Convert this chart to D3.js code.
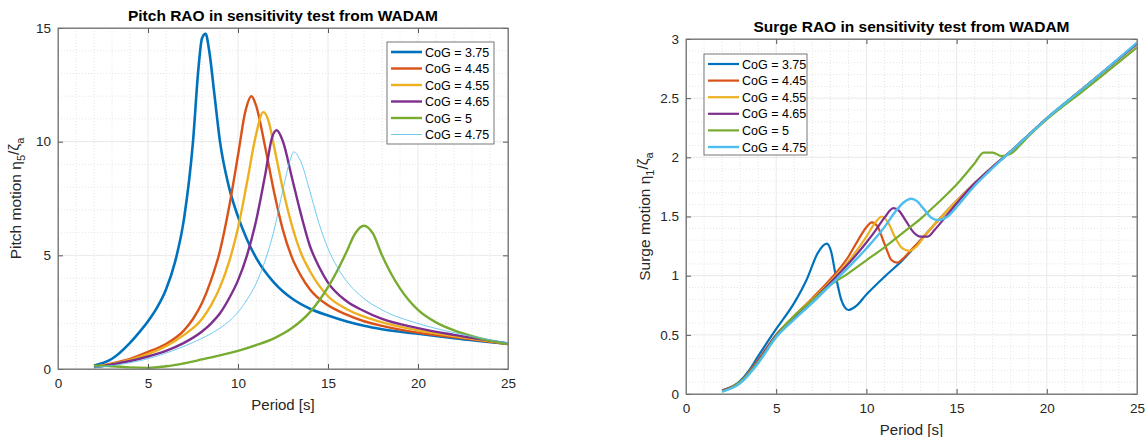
<!DOCTYPE html>
<html>
<head>
<meta charset="utf-8">
<script src="https://cdn.jsdelivr.net/npm/d3@7"></script>
<style>
  body { margin: 0; background: #fff; }
  svg { display: block; font-family: "Liberation Sans", Arial, sans-serif; }
</style>
</head>
<body>
<svg id="chart" width="1148" height="437"></svg>
<script>
// legend labels, in legend order
const cogLabels = ["CoG = 3.75", "CoG = 4.45", "CoG = 4.55", "CoG = 4.65", "CoG = 5", "CoG = 4.75"];
const cogColors = ["#0072BD", "#D95319", "#EDB120", "#7E2F8E", "#77AC30", "#4DBEEE"];

const periodTicks = [0, 5, 10, 15, 20, 25];
const pitchTicks = [0, 5, 10, 15];
const surgeTicks = [0, 0.5, 1, 1.5, 2, 2.5, 3];

// pitch RAO [period, value]
const pitch375 = [[2,0.15],[3,0.45],[4,1.15],[4.5,1.6],[5,2.1],[5.5,2.7],[6,3.5],[6.5,4.7],[7,6.6],[7.5,10.0],[7.8,13.2],[8,14.55],[8.2,14.75],[8.4,14.0],[8.7,12.0],[9,10.0],[9.5,8.0],[10,6.7],[10.5,5.7],[11,4.9],[12,3.8],[13,3.1],[14,2.65],[15,2.35],[16,2.1],[17,1.9],[18,1.75],[20,1.55],[22,1.35],[25,1.1]];
const pitch445 = [[2,0.1],[3,0.25],[4,0.45],[5,0.75],[6,1.1],[7,1.7],[7.5,2.2],[8,2.9],[8.5,3.9],[9,5.2],[9.5,7.1],[10,9.4],[10.4,11.3],[10.75,12.0],[11,11.6],[11.5,9.8],[12,7.8],[12.5,6.1],[13,4.9],[13.5,4.1],[14,3.5],[15,2.8],[16,2.4],[17,2.1],[18,1.9],[20,1.6],[22,1.4],[25,1.1]];
const pitch455 = [[2,0.1],[3,0.22],[4,0.4],[5,0.65],[6,1.0],[7,1.5],[8,2.2],[8.5,2.8],[9,3.6],[9.5,4.7],[10,6.2],[10.5,8.2],[11,10.3],[11.4,11.3],[11.7,10.9],[12,9.8],[12.5,7.9],[13,6.3],[13.5,5.1],[14,4.3],[15,3.2],[16,2.65],[17,2.3],[18,2.05],[20,1.7],[22,1.45],[25,1.12]];
const pitch465 = [[2,0.08],[3,0.2],[4,0.35],[5,0.55],[6,0.8],[7,1.15],[8,1.65],[8.5,2.0],[9,2.45],[9.5,3.1],[10,3.9],[10.5,5.0],[11,6.5],[11.5,8.5],[11.9,10.2],[12.15,10.5],[12.5,10.0],[13,8.4],[13.5,6.8],[14,5.4],[14.5,4.5],[15,3.8],[16,3.0],[17,2.55],[18,2.2],[20,1.8],[22,1.5],[25,1.12]];
const pitch500 = [[2,0.15],[3,0.12],[4,0.07],[5,0.05],[6,0.12],[7,0.25],[8,0.42],[9,0.6],[10,0.8],[11,1.05],[12,1.35],[13,1.8],[14,2.5],[14.5,3.0],[15,3.6],[15.5,4.3],[16,5.1],[16.5,5.95],[17,6.3],[17.5,5.95],[18,5.0],[18.5,4.2],[19,3.55],[20,2.6],[21,2.05],[22,1.7],[23,1.45],[24,1.25],[25,1.1]];
const pitch475 = [[2,0.05],[3,0.15],[4,0.28],[5,0.45],[6,0.7],[7,1.0],[8,1.35],[9,1.8],[9.5,2.1],[10,2.5],[10.5,3.05],[11,3.75],[11.5,4.75],[12,6.1],[12.5,7.9],[12.9,9.2],[13.1,9.55],[13.5,9.1],[14,7.8],[14.5,6.4],[15,5.3],[15.5,4.5],[16,3.9],[17,3.1],[18,2.6],[20,2.0],[22,1.6],[25,1.15]];

// surge RAO [period, value]
const surge375 = [[2,0.03],[3,0.11],[3.5,0.2],[4,0.32],[5,0.55],[6,0.77],[6.7,0.97],[7.3,1.19],[7.8,1.27],[8.05,1.2],[8.3,1.0],[8.6,0.8],[9,0.71],[9.4,0.74],[10,0.84],[11,0.99],[12,1.13],[13,1.3],[14,1.47],[15,1.63],[16,1.78],[17,1.92],[18,2.05],[19,2.19],[20,2.33],[22,2.58],[25,2.96]];
const surge445 = [[2,0.03],[3,0.1],[4,0.29],[5,0.5],[6,0.66],[7,0.81],[8,0.97],[9,1.16],[9.5,1.29],[10,1.41],[10.3,1.45],[10.6,1.42],[11,1.27],[11.4,1.13],[11.7,1.11],[12,1.14],[12.5,1.22],[13,1.3],[14,1.47],[15,1.63],[16,1.78],[17,1.92],[18,2.05],[19,2.19],[20,2.33],[22,2.58],[25,2.96]];
const surge455 = [[2,0.03],[3,0.1],[4,0.28],[5,0.5],[6,0.66],[7,0.8],[8,0.95],[9,1.12],[10,1.33],[10.5,1.45],[10.85,1.5],[11.2,1.45],[11.6,1.32],[12,1.23],[12.4,1.21],[12.8,1.25],[13.2,1.33],[14,1.47],[15,1.63],[16,1.78],[17,1.92],[18,2.05],[19,2.19],[20,2.33],[22,2.58],[25,2.96]];
const surge465 = [[2,0.03],[3,0.1],[4,0.28],[5,0.5],[6,0.65],[7,0.79],[8,0.94],[9,1.1],[10,1.28],[10.5,1.38],[11,1.49],[11.5,1.57],[11.8,1.55],[12.2,1.46],[12.6,1.37],[13,1.33],[13.4,1.33],[13.8,1.39],[14.3,1.48],[15,1.61],[16,1.78],[17,1.92],[18,2.05],[19,2.19],[20,2.33],[22,2.58],[25,2.96]];
const surge500 = [[2,0.02],[3,0.1],[4,0.27],[5,0.49],[6,0.66],[7,0.79],[8,0.92],[9,1.02],[10,1.13],[11,1.24],[12,1.36],[13,1.48],[14,1.62],[15,1.77],[16,1.95],[16.5,2.04],[17,2.04],[17.5,2.01],[18,2.03],[18.5,2.1],[19,2.18],[20,2.32],[22,2.56],[25,2.93]];
const surge475 = [[2,0.02],[3,0.09],[4,0.26],[5,0.48],[6,0.63],[7,0.77],[8,0.92],[9,1.07],[10,1.23],[11,1.41],[11.6,1.54],[12,1.61],[12.5,1.65],[12.8,1.63],[13.2,1.56],[13.6,1.49],[14,1.47],[14.5,1.5],[15,1.58],[16,1.76],[17,1.91],[18,2.05],[19,2.19],[20,2.33],[22,2.58],[25,2.97]];

const svg = d3.select("#chart");

function drawPanel(opt) {
  const g = svg.append("g");
  const x = d3.scaleLinear().domain([0, 25]).range([opt.left, opt.right]);
  const y = d3.scaleLinear().domain(opt.yDomain).range([opt.bottom, opt.top]);
  const w = opt.right - opt.left;
  const h = opt.bottom - opt.top;

  // minor grid (dotted)
  const minorX = d3.range(0, 25.001, 1).filter((v) => v % 5 !== 0);
  const minorY = d3.range(opt.yDomain[0], opt.yDomain[1] + 1e-6, opt.yMinor)
    .filter((v) => !opt.yTicks.some((t) => Math.abs(t - v) < 1e-6));
  g.selectAll(".mx").data(minorX).enter().append("line")
    .attr("x1", (d) => x(d)).attr("x2", (d) => x(d))
    .attr("y1", opt.top).attr("y2", opt.bottom)
    .attr("stroke", "#d4d4d4").attr("stroke-width", 0.6).attr("stroke-dasharray", "1,2");
  g.selectAll(".my").data(minorY).enter().append("line")
    .attr("x1", opt.left).attr("x2", opt.right)
    .attr("y1", (d) => y(d)).attr("y2", (d) => y(d))
    .attr("stroke", "#d4d4d4").attr("stroke-width", 0.6).attr("stroke-dasharray", "1,2");

  // major grid
  g.selectAll(".gx").data(periodTicks).enter().append("line")
    .attr("x1", (d) => x(d)).attr("x2", (d) => x(d))
    .attr("y1", opt.top).attr("y2", opt.bottom)
    .attr("stroke", "#e3e3e3").attr("stroke-width", 0.8);
  g.selectAll(".gy").data(opt.yTicks).enter().append("line")
    .attr("x1", opt.left).attr("x2", opt.right)
    .attr("y1", (d) => y(d)).attr("y2", (d) => y(d))
    .attr("stroke", "#e3e3e3").attr("stroke-width", 0.8);

  // curves
  const line = d3.line()
    .x((d) => x(d[0]))
    .y((d) => y(d[1]))
    .curve(d3.curveMonotoneX);
  opt.series.forEach((s, i) => {
    g.append("path")
      .datum(s)
      .attr("fill", "none")
      .attr("stroke", cogColors[i])
      .attr("stroke-width", opt.widths[i])
      .attr("stroke-linejoin", "round")
      .attr("d", line);
  });

  // axes (ticks inside, box on)
  const tickLen = 5;
  const axisColor = "#808080";
  const bottomAxis = g.append("g").attr("transform", `translate(0,${opt.bottom})`)
    .call(d3.axisBottom(x).tickValues(periodTicks).tickSizeInner(-tickLen).tickSizeOuter(0).tickPadding(9));
  const topAxis = g.append("g").attr("transform", `translate(0,${opt.top})`)
    .call(d3.axisTop(x).tickValues(periodTicks).tickSizeInner(-tickLen).tickSizeOuter(0).tickFormat(""));
  const leftAxis = g.append("g").attr("transform", `translate(${opt.left},0)`)
    .call(d3.axisLeft(y).tickValues(opt.yTicks).tickSizeInner(-tickLen).tickSizeOuter(0).tickPadding(7)
      .tickFormat(d3.format("~g")));
  const rightAxis = g.append("g").attr("transform", `translate(${opt.right},0)`)
    .call(d3.axisRight(y).tickValues(opt.yTicks).tickSizeInner(-tickLen).tickSizeOuter(0).tickFormat(""));
  [bottomAxis, topAxis, leftAxis, rightAxis].forEach((a) => {
    a.select(".domain").attr("stroke", axisColor);
    a.selectAll(".tick line").attr("stroke", "#555");
    a.selectAll("text").attr("fill", "#262626").attr("font-size", "13.5px")
      .attr("font-family", "Liberation Sans, Arial, sans-serif");
  });
  g.append("rect").attr("x", opt.left).attr("y", opt.top).attr("width", w).attr("height", h)
    .attr("fill", "none").attr("stroke", axisColor).attr("stroke-width", 1);

  // title
  g.append("text")
    .attr("x", (opt.left + opt.right) / 2)
    .attr("y", opt.top - 7)
    .attr("text-anchor", "middle")
    .attr("font-size", "15.5px").attr("font-weight", "bold").attr("fill", "#000")
    .text(opt.title);

  // x label
  g.append("text")
    .attr("x", (opt.left + opt.right) / 2)
    .attr("y", opt.bottom + 41)
    .attr("text-anchor", "middle")
    .attr("font-size", "15px").attr("fill", "#262626")
    .text("Period [s]");

  // y label
  const yl = g.append("text")
    .attr("transform", `translate(${opt.yLabelX},${(opt.top + opt.bottom) / 2}) rotate(-90)`)
    .attr("text-anchor", "middle")
    .attr("font-size", "15.5px").attr("fill", "#262626");
  yl.append("tspan").text(opt.yLabel + " \u03b7");
  yl.append("tspan").attr("dy", 4).attr("font-size", "11px").text(opt.yIndex);
  yl.append("tspan").attr("dy", -6).text("/\u03b6");
  yl.append("tspan").attr("dy", 5).attr("font-size", "11px").text("a");

  // legend
  const lg = g.append("g");
  lg.append("rect")
    .attr("x", opt.legend.x).attr("y", opt.legend.y)
    .attr("width", opt.legend.w).attr("height", opt.legend.h)
    .attr("fill", "#fff").attr("stroke", "#555").attr("stroke-width", 0.8);
  cogLabels.forEach((lab, i) => {
    const cy = opt.legend.y + 10 + i * opt.legend.step;
    lg.append("line")
      .attr("x1", opt.legend.x + 4).attr("x2", opt.legend.x + 35)
      .attr("y1", cy).attr("y2", cy)
      .attr("stroke", cogColors[i]).attr("stroke-width", opt.widths[i]);
    lg.append("text")
      .attr("x", opt.legend.x + 38).attr("y", cy + 4.5)
      .attr("font-size", "12.5px").attr("fill", "#000")
      .text(lab);
  });
}

drawPanel({
  left: 58, right: 508, top: 28, bottom: 369,
  yDomain: [0, 15], yTicks: pitchTicks, yMinor: 1,
  series: [pitch375, pitch445, pitch455, pitch465, pitch500, pitch475],
  widths: [2.6, 2.4, 2.4, 2.4, 2.4, 0.8],
  title: "Pitch RAO in sensitivity test from WADAM",
  yLabel: "Pitch motion", yIndex: "5", yLabelX: 21,
  legend: { x: 387, y: 42, w: 107, h: 102, step: 16.5 },
});

drawPanel({
  left: 686, right: 1137, top: 39, bottom: 394,
  yDomain: [0, 3], yTicks: surgeTicks, yMinor: 0.1,
  series: [surge375, surge445, surge455, surge465, surge500, surge475],
  widths: [2.2, 2.2, 2.2, 2.2, 2.2, 2.4],
  title: "Surge RAO in sensitivity test from WADAM",
  yLabel: "Surge motion", yIndex: "1", yLabelX: 650,
  legend: { x: 704, y: 54, w: 103, h: 101, step: 16.6 },
});
</script>
</body>
</html>
